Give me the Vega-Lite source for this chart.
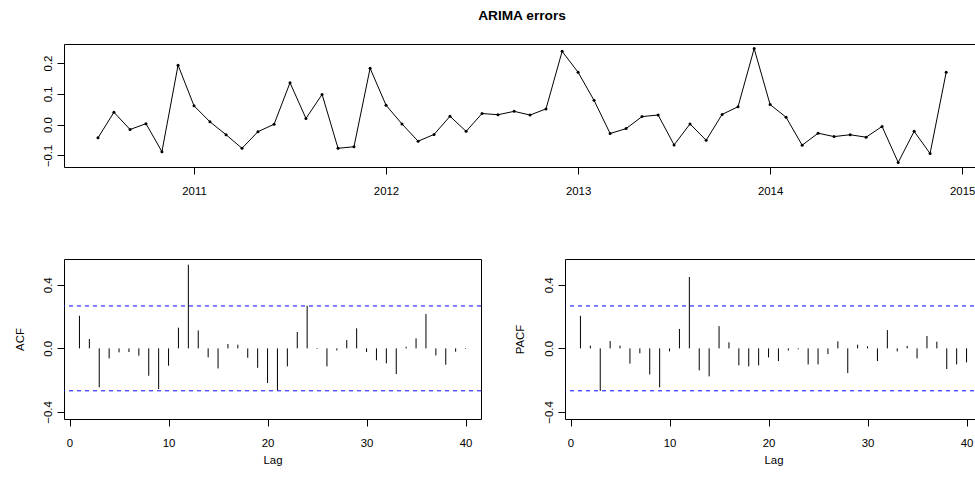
{
  "$schema": "https://vega.github.io/schema/vega-lite/v6.json",
  "padding": {"left": 14, "top": 8, "right": 0, "bottom": 0},
  "background": "white",
  "config": {
    "font": "Liberation Sans",
    "view": {"stroke": "black", "strokeWidth": 1},
    "axis": {
      "domain": false,
      "grid": false,
      "ticks": true,
      "tickColor": "black",
      "tickSize": 7,
      "tickWidth": 1,
      "labelColor": "black",
      "labelFont": "Liberation Sans",
      "labelFontSize": 11.4,
      "titleColor": "black",
      "titleFont": "Liberation Sans",
      "titleFontSize": 11.4,
      "titleFontWeight": "normal"
    },
    "axisX": {"labelBaseline": "alphabetic", "labelPadding": 20, "labelAlign": "center", "labelAngle": 0},
    "axisY": {"labelBaseline": "alphabetic", "labelPadding": 6, "labelAlign": "center", "labelAngle": -90}
  },
  "datasets": {
    "err": [
      {"t": 2010.500, "e": -0.043}, {"t": 2010.583, "e": 0.040}, {"t": 2010.667, "e": -0.016},
      {"t": 2010.750, "e": 0.003}, {"t": 2010.833, "e": -0.088}, {"t": 2010.917, "e": 0.193},
      {"t": 2011.000, "e": 0.061}, {"t": 2011.083, "e": 0.009}, {"t": 2011.167, "e": -0.033},
      {"t": 2011.250, "e": -0.077}, {"t": 2011.333, "e": -0.023}, {"t": 2011.417, "e": 0.001},
      {"t": 2011.500, "e": 0.136}, {"t": 2011.583, "e": 0.020}, {"t": 2011.667, "e": 0.098},
      {"t": 2011.750, "e": -0.077}, {"t": 2011.833, "e": -0.072}, {"t": 2011.917, "e": 0.183},
      {"t": 2012.000, "e": 0.063}, {"t": 2012.083, "e": 0.002}, {"t": 2012.167, "e": -0.054},
      {"t": 2012.250, "e": -0.032}, {"t": 2012.333, "e": 0.027}, {"t": 2012.417, "e": -0.022},
      {"t": 2012.500, "e": 0.036}, {"t": 2012.583, "e": 0.032}, {"t": 2012.667, "e": 0.043},
      {"t": 2012.750, "e": 0.031}, {"t": 2012.833, "e": 0.051}, {"t": 2012.917, "e": 0.238},
      {"t": 2013.000, "e": 0.170}, {"t": 2013.083, "e": 0.079}, {"t": 2013.167, "e": -0.029},
      {"t": 2013.250, "e": -0.013}, {"t": 2013.333, "e": 0.026}, {"t": 2013.417, "e": 0.031},
      {"t": 2013.500, "e": -0.066}, {"t": 2013.583, "e": 0.002}, {"t": 2013.667, "e": -0.051},
      {"t": 2013.750, "e": 0.033}, {"t": 2013.833, "e": 0.058}, {"t": 2013.917, "e": 0.247},
      {"t": 2014.000, "e": 0.065}, {"t": 2014.083, "e": 0.024}, {"t": 2014.167, "e": -0.067},
      {"t": 2014.250, "e": -0.028}, {"t": 2014.333, "e": -0.039}, {"t": 2014.417, "e": -0.033},
      {"t": 2014.500, "e": -0.041}, {"t": 2014.583, "e": -0.006}, {"t": 2014.667, "e": -0.123},
      {"t": 2014.750, "e": -0.022}, {"t": 2014.833, "e": -0.094}, {"t": 2014.917, "e": 0.170}
    ],
    "acf": [
      {"lag": 1, "v": 0.205}, {"lag": 2, "v": 0.059}, {"lag": 3, "v": -0.245}, {"lag": 4, "v": -0.063},
      {"lag": 5, "v": -0.025}, {"lag": 6, "v": -0.023}, {"lag": 7, "v": -0.046}, {"lag": 8, "v": -0.172},
      {"lag": 9, "v": -0.256}, {"lag": 10, "v": -0.109}, {"lag": 11, "v": 0.130}, {"lag": 12, "v": 0.526},
      {"lag": 13, "v": 0.113}, {"lag": 14, "v": -0.057}, {"lag": 15, "v": -0.126}, {"lag": 16, "v": 0.027},
      {"lag": 17, "v": 0.023}, {"lag": 18, "v": -0.059}, {"lag": 19, "v": -0.122}, {"lag": 20, "v": -0.218},
      {"lag": 21, "v": -0.264}, {"lag": 22, "v": -0.113}, {"lag": 23, "v": 0.103}, {"lag": 24, "v": 0.268},
      {"lag": 25, "v": -0.004}, {"lag": 26, "v": -0.113}, {"lag": 27, "v": -0.013}, {"lag": 28, "v": 0.052},
      {"lag": 29, "v": 0.126}, {"lag": 30, "v": -0.023}, {"lag": 31, "v": -0.075}, {"lag": 32, "v": -0.094},
      {"lag": 33, "v": -0.161}, {"lag": 34, "v": 0.010}, {"lag": 35, "v": 0.063}, {"lag": 36, "v": 0.216},
      {"lag": 37, "v": -0.044}, {"lag": 38, "v": -0.103}, {"lag": 39, "v": -0.021}, {"lag": 40, "v": -0.004}
    ],
    "pacf": [
      {"lag": 1, "v": 0.205}, {"lag": 2, "v": 0.017}, {"lag": 3, "v": -0.268}, {"lag": 4, "v": 0.046},
      {"lag": 5, "v": 0.017}, {"lag": 6, "v": -0.096}, {"lag": 7, "v": -0.031}, {"lag": 8, "v": -0.164},
      {"lag": 9, "v": -0.245}, {"lag": 10, "v": -0.019}, {"lag": 11, "v": 0.122}, {"lag": 12, "v": 0.449},
      {"lag": 13, "v": -0.138}, {"lag": 14, "v": -0.176}, {"lag": 15, "v": 0.140}, {"lag": 16, "v": 0.038},
      {"lag": 17, "v": -0.107}, {"lag": 18, "v": -0.113}, {"lag": 19, "v": -0.107}, {"lag": 20, "v": -0.057},
      {"lag": 21, "v": -0.080}, {"lag": 22, "v": -0.013}, {"lag": 23, "v": -0.006}, {"lag": 24, "v": -0.101},
      {"lag": 25, "v": -0.101}, {"lag": 26, "v": -0.036}, {"lag": 27, "v": 0.044}, {"lag": 28, "v": -0.155},
      {"lag": 29, "v": 0.023}, {"lag": 30, "v": 0.013}, {"lag": 31, "v": -0.080}, {"lag": 32, "v": 0.115},
      {"lag": 33, "v": -0.019}, {"lag": 34, "v": 0.015}, {"lag": 35, "v": -0.063}, {"lag": 36, "v": 0.078},
      {"lag": 37, "v": 0.042}, {"lag": 38, "v": -0.130}, {"lag": 39, "v": -0.101}, {"lag": 40, "v": -0.088}
    ],
    "ci": [{"c": 0.2667}, {"c": -0.2667}]
  },
  "bounds": "flush",
  "spacing": 92,
  "vconcat": [
    {
      "width": 916,
      "height": 123,
      "title": {"text": "ARIMA errors", "fontSize": 13.7, "fontWeight": "bold", "color": "black", "baseline": "alphabetic", "offset": 10, "frame": "group", "anchor": "middle"},
      "data": {"name": "err"},
      "layer": [
        {
          "mark": {"type": "line", "color": "black", "strokeWidth": 1},
          "encoding": {
            "x": {"field": "t", "type": "quantitative", "scale": {"domain": [2010.323, 2015.093], "nice": false, "zero": false},
                  "axis": {"title": null, "values": [2011, 2012, 2013, 2014, 2015], "format": "d"}},
            "y": {"field": "e", "type": "quantitative", "scale": {"domain": [-0.1378, 0.2618], "nice": false, "zero": false},
                  "axis": {"title": null, "values": [-0.1, 0.0, 0.1, 0.2], "format": ".1f"}}
          }
        },
        {
          "mark": {"type": "point", "filled": true, "color": "black", "size": 9, "opacity": 1},
          "encoding": {
            "x": {"field": "t", "type": "quantitative"},
            "y": {"field": "e", "type": "quantitative"}
          }
        }
      ]
    },
    {
      "bounds": "flush",
      "spacing": 84,
      "hconcat": [
        {
          "width": 417,
          "height": 160,
          "layer": [
            {
              "data": {"name": "acf"},
              "mark": {"type": "rule", "color": "black", "strokeWidth": 1},
              "encoding": {
                "x": {"field": "lag", "type": "quantitative", "scale": {"domain": [-0.56, 41.56], "nice": false, "zero": false},
                      "axis": {"title": "Lag", "values": [0, 10, 20, 30, 40], "format": "d", "titleBaseline": "alphabetic", "titleY": 44}},
                "y": {"field": "v", "type": "quantitative", "scale": {"domain": [-0.444, 0.562], "nice": false, "zero": false},
                      "axis": {"title": "ACF", "values": [-0.4, -0.2, 0.0, 0.2, 0.4], "format": ".1f",
                               "labelExpr": "datum.value > -0.25 && datum.value < -0.15 ? '' : datum.label",
                               "titleAngle": -90, "titleBaseline": "alphabetic", "titleAlign": "center", "titleX": -40.5, "titleY": 80}},
                "y2": {"datum": 0}
              }
            },
            {
              "mark": {"type": "rule", "color": "black", "strokeWidth": 1},
              "encoding": {"y": {"datum": 0}}
            },
            {
              "data": {"name": "ci"},
              "mark": {"type": "rule", "color": "#0000FF", "strokeWidth": 1, "strokeDash": [4, 4]},
              "encoding": {"y": {"field": "c", "type": "quantitative"}}
            }
          ]
        },
        {
          "width": 417,
          "height": 160,
          "layer": [
            {
              "data": {"name": "pacf"},
              "mark": {"type": "rule", "color": "black", "strokeWidth": 1},
              "encoding": {
                "x": {"field": "lag", "type": "quantitative", "scale": {"domain": [-0.56, 41.56], "nice": false, "zero": false},
                      "axis": {"title": "Lag", "values": [0, 10, 20, 30, 40], "format": "d", "titleBaseline": "alphabetic", "titleY": 44}},
                "y": {"field": "v", "type": "quantitative", "scale": {"domain": [-0.444, 0.562], "nice": false, "zero": false},
                      "axis": {"title": "PACF", "values": [-0.4, -0.2, 0.0, 0.2, 0.4], "format": ".1f",
                               "labelExpr": "datum.value > -0.25 && datum.value < -0.15 ? '' : datum.label",
                               "titleAngle": -90, "titleBaseline": "alphabetic", "titleAlign": "center", "titleX": -41.5, "titleY": 80}},
                "y2": {"datum": 0}
              }
            },
            {
              "mark": {"type": "rule", "color": "black", "strokeWidth": 1},
              "encoding": {"y": {"datum": 0}}
            },
            {
              "data": {"name": "ci"},
              "mark": {"type": "rule", "color": "#0000FF", "strokeWidth": 1, "strokeDash": [4, 4]},
              "encoding": {"y": {"field": "c", "type": "quantitative"}}
            }
          ]
        }
      ]
    }
  ]
}
